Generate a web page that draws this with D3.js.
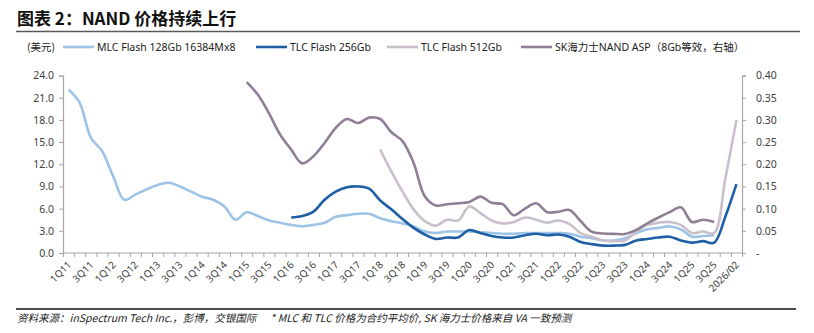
<!DOCTYPE html>
<html>
<head>
<meta charset="utf-8">
<script src="https://cdn.jsdelivr.net/npm/d3@7"></script>
<style>
  body { margin: 0; background: #fff; }
  text { font-family: "Noto Sans", "Noto Sans CJK SC", sans-serif; fill: #404040; }
</style>
</head>
<body>
<div id="chart"></div>
<script>
var categories = [
  "1Q11","2Q11","3Q11","4Q11","1Q12","2Q12","3Q12","4Q12","1Q13","2Q13","3Q13","4Q13",
  "1Q14","2Q14","3Q14","4Q14","1Q15","2Q15","3Q15","4Q15","1Q16","2Q16","3Q16","4Q16",
  "1Q17","2Q17","3Q17","4Q17","1Q18","2Q18","3Q18","4Q18","1Q19","2Q19","3Q19","4Q19",
  "1Q20","2Q20","3Q20","4Q20","1Q21","2Q21","3Q21","4Q21","1Q22","2Q22","3Q22","4Q22",
  "1Q23","2Q23","3Q23","4Q23","1Q24","2Q24","3Q24","4Q24","1Q25","2Q25","3Q25","4Q25","2026/02"
];

// 美元, left axis
var mlc128 = [
  22.1, 20.3, 15.6, 13.8, 10.4, 7.2, 7.9, 8.6, 9.2, 9.5, 9.0, 8.3,
  7.6, 7.2, 6.3, 4.5, 5.5, 5.0, 4.4, 4.1, 3.8, 3.6, 3.8, 4.1,
  4.9, 5.1, 5.3, 5.3, 4.7, 4.3, 4.0, 3.6, 2.9, 2.7, 2.9, 2.9,
  2.9, 2.8, 2.7, 2.6, 2.6, 2.7, 2.7, 2.7, 2.7, 2.6, 2.2, 2.0,
  1.7, 1.7, 2.0, 2.7, 3.2, 3.4, 3.6, 3.2, 2.2, 2.3, 2.4, null, null
];
var tlc256 = [
  null, null, null, null, null, null, null, null, null, null, null, null,
  null, null, null, null, null, null, null, null, 4.8, 5.0, 5.6, 7.2,
  8.3, 8.9, 9.0, 8.7, 7.1, 5.9, 4.6, 3.4, 2.5, 1.9, 2.1, 2.1,
  3.1, 2.7, 2.3, 2.1, 2.1, 2.4, 2.6, 2.4, 2.5, 2.2, 1.5, 1.2,
  1.0, 1.0, 1.1, 1.7, 1.9, 2.1, 2.2, 1.7, 1.4, 1.6, 1.4, 4.9, 9.3
];
var tlc512 = [
  null, null, null, null, null, null, null, null, null, null, null, null,
  null, null, null, null, null, null, null, null, null, null, null, null,
  null, null, null, null, 14.0, 11.0, 8.3, 5.9, 4.3, 3.7, 4.5, 4.4,
  6.3, 5.4, 4.4, 4.0, 4.2, 4.8, 4.5, 4.1, 4.4, 3.9, 2.7, 2.2,
  1.7, 1.6, 1.7, 2.9, 3.8, 4.1, 4.2, 3.8, 2.7, 2.9, 2.7, 10.0, 18.0
];
// right axis
var skAsp = [
  null, null, null, null, null, null, null, null, null, null, null, null,
  null, null, null, null, 0.385, 0.357, 0.315, 0.267, 0.233, 0.202, 0.218, 0.248,
  0.282, 0.302, 0.293, 0.305, 0.302, 0.272, 0.252, 0.203, 0.128, 0.107, 0.110, 0.112,
  0.115, 0.127, 0.113, 0.110, 0.085, 0.100, 0.112, 0.092, 0.093, 0.097, 0.072, 0.048,
  0.044, 0.043, 0.043, 0.052, 0.067, 0.080, 0.092, 0.103, 0.070, 0.075, 0.070, null, null
];

var leftTicks = [0, 3, 6, 9, 12, 15, 18, 21, 24];
var rightTicks = [0, 0.05, 0.1, 0.15, 0.2, 0.25, 0.3, 0.35, 0.4];

var series = [
  {name: "MLC Flash 128Gb 16384Mx8", values: mlc128, color: "#9dc3e6", axis: "left", lx: 63},
  {name: "TLC Flash 256Gb", values: tlc256, color: "#1f5fa5", axis: "left", lx: 256},
  {name: "TLC Flash 512Gb", values: tlc512, color: "#c9c0cc", axis: "left", lx: 387},
  {name: "SK海力士NAND ASP（8Gb等效，右轴）", values: skAsp, color: "#8e8094", axis: "right", lx: 521}
];

var width = 814, height = 333;
var plot = {left: 63, right: 742, top: 75.5, bottom: 253};

var svg = d3.select("#chart").append("svg")
  .attr("width", width)
  .attr("height", height);

// title and frame lines
svg.append("text")
  .attr("x", 17).attr("y", 25)
  .style("font-family", "'Noto Sans CJK SC', sans-serif")
  .style("font-weight", "bold")
  .style("font-size", "17px")
  .style("fill", "#111")
  .text("图表 2：NAND 价格持续上行");

svg.append("line")
  .attr("x1", 16).attr("x2", 800).attr("y1", 31.5).attr("y2", 31.5)
  .attr("stroke", "#595959").attr("stroke-width", 1.5);

svg.append("line")
  .attr("x1", 16).attr("x2", 796).attr("y1", 309).attr("y2", 309)
  .attr("stroke", "#111").attr("stroke-width", 1.5);

svg.append("text")
  .attr("x", 17).attr("y", 322)
  .style("font-family", "'Noto Sans CJK SC', sans-serif")
  .style("font-style", "italic")
  .style("font-size", "10.5px")
  .style("fill", "#222")
  .style("white-space", "pre")
  .text("资料来源：inSpectrum Tech Inc.，彭博，交银国际      * MLC 和 TLC 价格为合约平均价, SK 海力士价格来自 VA 一致预测");

// scales
var x = d3.scaleBand()
  .domain(categories)
  .range([plot.left, plot.right])
  .padding(0);
var xEdge = d3.scaleLinear()
  .domain([0, categories.length])
  .range([plot.left, plot.right]);
var yLeft = d3.scaleLinear().domain([0, 24]).range([plot.bottom, plot.top]);
var yRight = d3.scaleLinear().domain([0, 0.4]).range([plot.bottom, plot.top]);

function cx(d, i) { return x(categories[i]) + x.bandwidth() / 2; }

// axes
var axisColor = "#a6a6a6";

var gLeft = svg.append("g")
  .attr("transform", "translate(" + plot.left + ",0)")
  .call(d3.axisLeft(yLeft).tickValues(leftTicks).tickSize(4).tickPadding(5)
    .tickFormat(d3.format(".1f")));

var gRight = svg.append("g")
  .attr("transform", "translate(" + plot.right + ",0)")
  .call(d3.axisRight(yRight).tickValues(rightTicks).tickSize(4).tickPadding(10)
    .tickFormat(function (d) { return d === 0 ? "-" : d3.format(".2f")(d); }));

var gBottom = svg.append("g")
  .attr("transform", "translate(0," + plot.bottom + ")")
  .call(d3.axisBottom(xEdge).tickValues(d3.range(categories.length + 1)).tickSize(4)
    .tickFormat(""));

[gLeft, gRight, gBottom].forEach(function (g) {
  g.select(".domain").attr("stroke", axisColor).attr("stroke-width", 1.2);
  g.selectAll(".tick line").attr("stroke", axisColor);
  g.selectAll(".tick text")
    .style("font-family", "'Noto Sans', sans-serif")
    .style("font-size", "10.5px")
    .style("fill", "#404040");
});
gBottom.select(".domain").attr("d", "M" + plot.left + ",0H" + plot.right);

// x labels, every other category
svg.append("g").selectAll("text")
  .data(categories.filter(function (d, i) { return i % 2 === 0; }))
  .join("text")
  .attr("transform", function (d) {
    return "translate(" + (x(d) + x.bandwidth() / 2 + 1) + "," + (plot.bottom + 10) + ") rotate(-45)";
  })
  .attr("text-anchor", "end")
  .attr("dy", "0.35em")
  .style("font-size", "10px")
  .style("fill", "#404040")
  .text(function (d) { return d; });

// lines
series.forEach(function (s) {
  var yScale = s.axis === "left" ? yLeft : yRight;
  var line = d3.line()
    .defined(function (d) { return d != null; })
    .x(cx)
    .y(function (d) { return yScale(d); })
    .curve(d3.curveCatmullRom.alpha(0.5));

  svg.append("path")
    .datum(s.values)
    .attr("d", line)
    .attr("fill", "none")
    .attr("stroke", s.color)
    .attr("stroke-width", 2.6)
    .attr("stroke-linejoin", "round");
});

// legend
var legendY = 47;
svg.append("text")
  .attr("x", 27).attr("y", legendY + 4)
  .style("font-family", "'Noto Sans CJK SC', sans-serif")
  .style("font-size", "10.5px")
  .style("fill", "#222")
  .text("(美元)");

var legend = svg.append("g").selectAll("g")
  .data(series)
  .join("g")
  .attr("transform", function (d) { return "translate(" + d.lx + "," + legendY + ")"; });

legend.append("line")
  .attr("x1", 0).attr("x2", 31)
  .attr("stroke", function (d) { return d.color; })
  .attr("stroke-width", 2.6);

legend.append("text")
  .attr("x", 34).attr("y", 4)
  .style("font-family", "'Noto Sans', 'Noto Sans CJK SC', sans-serif")
  .style("font-size", "10.5px")
  .style("fill", "#222")
  .text(function (d) { return d.name; });
</script>
</body>
</html>
